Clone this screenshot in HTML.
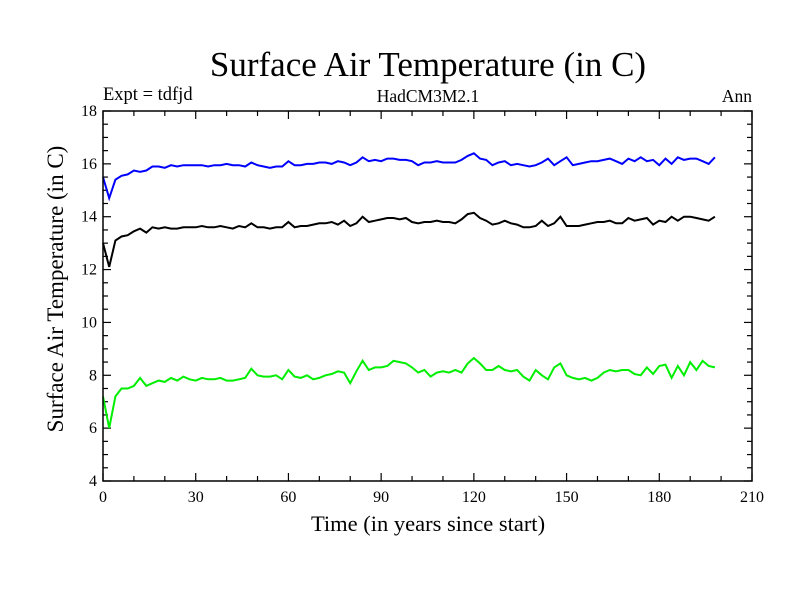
<!DOCTYPE html>
<html><head><meta charset="utf-8"><style>
html,body{margin:0;padding:0;background:#fff;}
svg text{font-family:"Liberation Serif",serif;fill:#000;}
</style></head><body>
<svg id="chart" width="800" height="600" viewBox="0 0 800 600">
<rect width="800" height="600" fill="#fff"/>
<text x="428" y="76" font-size="35" text-anchor="middle">Surface Air Temperature (in C)</text>
<text x="103" y="100" font-size="18.5">Expt = tdfjd</text>
<text x="428" y="102" font-size="17.5" text-anchor="middle">HadCM3M2.1</text>
<text x="752" y="102" font-size="17.5" text-anchor="end">Ann</text>
<text x="428" y="531" font-size="22.5" text-anchor="middle">Time (in years since start)</text>
<text transform="translate(63,289) rotate(-90)" font-size="23" text-anchor="middle">Surface Air Temperature (in C)</text>
<g id="axes"></g>
<g id="series"></g>
<rect x="103" y="111" width="649" height="370" fill="none" stroke="#000" stroke-width="1.5"/>
</svg>
<script>
const years = [];
for (let i = 0; i < 100; i++) years.push(i * 2);
const blueValues = [
15.5,14.7,15.4,15.55,15.6,15.75,15.7,15.75,15.9,15.9,
15.85,15.95,15.9,15.95,15.95,15.95,15.95,15.9,15.95,15.95,
16.0,15.95,15.95,15.9,16.05,15.95,15.9,15.85,15.9,15.9,
16.1,15.95,15.95,16.0,16.0,16.05,16.05,16.0,16.1,16.05,
15.95,16.05,16.25,16.1,16.15,16.1,16.2,16.2,16.15,16.15,
16.1,15.95,16.05,16.05,16.1,16.05,16.05,16.05,16.15,16.3,
16.4,16.2,16.15,15.95,16.05,16.1,15.95,16.0,15.95,15.9,
15.95,16.05,16.2,15.95,16.1,16.25,15.95,16.0,16.05,16.1,
16.1,16.15,16.2,16.1,16.0,16.2,16.1,16.25,16.1,16.15,
15.95,16.2,16.0,16.25,16.15,16.2,16.2,16.1,16.0,16.25];
const blackValues = [
13.0,12.1,13.1,13.25,13.3,13.45,13.55,13.4,13.6,13.55,
13.6,13.55,13.55,13.6,13.6,13.6,13.65,13.6,13.6,13.65,
13.6,13.55,13.65,13.6,13.75,13.6,13.6,13.55,13.6,13.6,
13.8,13.6,13.65,13.65,13.7,13.75,13.75,13.8,13.7,13.85,
13.65,13.75,14.0,13.8,13.85,13.9,13.95,13.95,13.9,13.95,
13.8,13.75,13.8,13.8,13.85,13.8,13.8,13.75,13.9,14.1,
14.15,13.95,13.85,13.7,13.75,13.85,13.75,13.7,13.6,13.6,
13.65,13.85,13.65,13.75,14.0,13.65,13.65,13.65,13.7,13.75,
13.8,13.8,13.85,13.75,13.75,13.95,13.85,13.9,13.95,13.7,
13.85,13.8,14.0,13.85,14.0,14.0,13.95,13.9,13.85,14.0];
const greenValues = [
7.2,6.0,7.2,7.5,7.5,7.6,7.9,7.6,7.7,7.8,
7.75,7.9,7.8,7.95,7.85,7.8,7.9,7.85,7.85,7.9,
7.8,7.8,7.85,7.9,8.25,8.0,7.95,7.95,8.0,7.85,
8.2,7.95,7.9,8.0,7.85,7.9,8.0,8.05,8.15,8.1,
7.7,8.15,8.55,8.2,8.3,8.3,8.35,8.55,8.5,8.45,
8.3,8.1,8.2,7.95,8.1,8.15,8.1,8.2,8.1,8.45,
8.65,8.45,8.2,8.2,8.35,8.2,8.15,8.2,7.95,7.8,
8.2,8.0,7.85,8.3,8.45,8.0,7.9,7.85,7.9,7.8,
7.9,8.1,8.2,8.15,8.2,8.2,8.05,8.0,8.3,8.05,
8.35,8.4,7.9,8.35,8.0,8.5,8.2,8.55,8.35,8.3];
const xTickLabels = [0,30,60,90,120,150,180,210];
const yTickLabels = [4,6,8,10,12,14,16,18];

const X0=103,X1=752,Y0=481,Y1=111;
const xMin=0,xMax=210,yMin=4,yMax=18;
const xs = v => X0 + (v - xMin) / (xMax - xMin) * (X1 - X0);
const ys = v => Y0 - (v - yMin) / (yMax - yMin) * (Y0 - Y1);
const NS='http://www.w3.org/2000/svg';
const axes=document.getElementById('axes');
const series=document.getElementById('series');
function line(x1,y1,x2,y2){
  const l=document.createElementNS(NS,'line');
  l.setAttribute('x1',x1);l.setAttribute('y1',y1);l.setAttribute('x2',x2);l.setAttribute('y2',y2);
  l.setAttribute('stroke','#000');l.setAttribute('stroke-width','1.2');
  return l;
}
for(let v=0; v<=210; v+=10){
  const major = v%30===0, len = major?8:5, x=xs(v);
  const t1=line(x,Y0,x,Y0-len);
  
  
  axes.appendChild(t1);
  const t2=line(x,Y1,x,Y1+len);
  
  
  axes.appendChild(t2);
}
xTickLabels.forEach(v=>{
  const t=document.createElementNS(NS,'text');
  t.setAttribute('x',xs(v));t.setAttribute('y',Y0+21);
  t.setAttribute('font-size','16');t.setAttribute('text-anchor','middle');
  t.textContent=v;
  
  
  axes.appendChild(t);
});
for(let v=4; v<=18.001; v+=0.5){
  const major = Math.abs(v%2)<1e-6, len = major?8:5, y=ys(v);
  const t1=line(X0,y,X0+len,y);
  
  
  axes.appendChild(t1);
  const t2=line(X1,y,X1-len,y);
  
  
  axes.appendChild(t2);
}
yTickLabels.forEach(v=>{
  const t=document.createElementNS(NS,'text');
  t.setAttribute('x',X0-6);t.setAttribute('y',ys(v)+5);
  t.setAttribute('font-size','16');t.setAttribute('text-anchor','end');
  t.textContent=v;
  
  
  axes.appendChild(t);
});
function drawSeries(vals,color,name){
  const p=document.createElementNS(NS,'polyline');
  p.setAttribute('points',vals.map((v,i)=>xs(years[i]).toFixed(1)+','+ys(v).toFixed(1)).join(' '));
  p.setAttribute('fill','none');p.setAttribute('stroke',color);p.setAttribute('stroke-width','2');
  
  
  series.appendChild(p);
}
drawSeries(blueValues,'#0000ff','series-blue');
drawSeries(blackValues,'#000000','series-black');
drawSeries(greenValues,'#00ee00','series-green');
</script>
</body></html>
